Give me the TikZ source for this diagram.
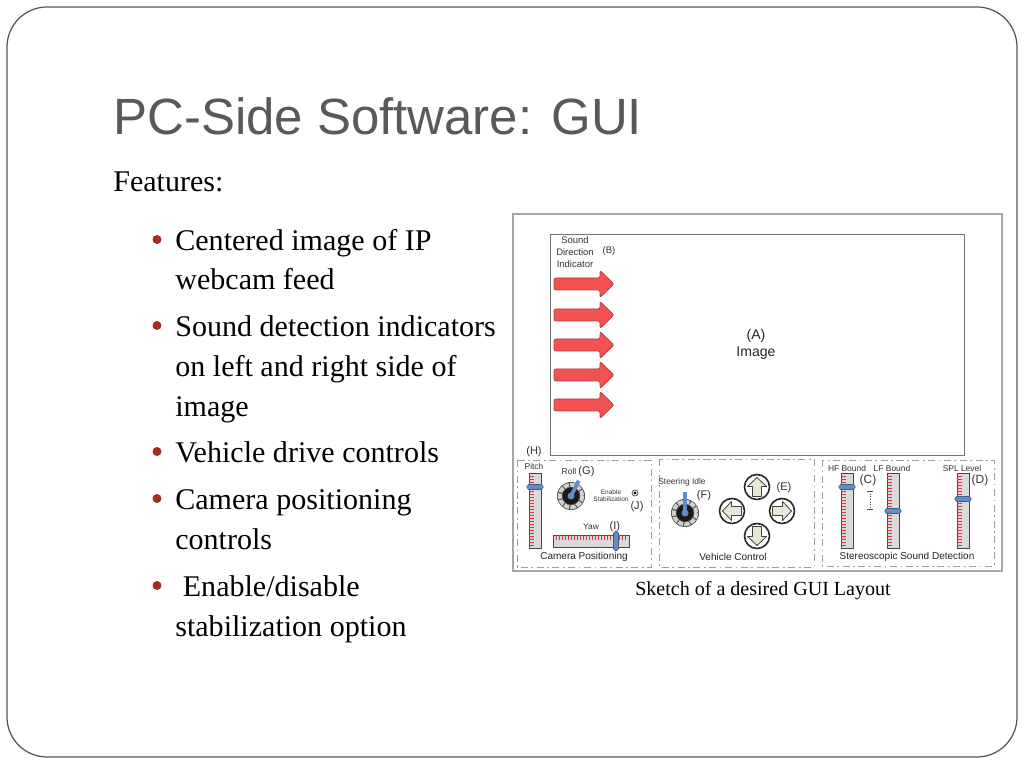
\documentclass[tikz,border=0pt]{standalone}
\usepackage{fontspec}
\setmainfont{Liberation Serif}
\setsansfont{Liberation Sans}
\usetikzlibrary{positioning}

\definecolor{titlegray}{RGB}{92,88,88}
\definecolor{framegray}{RGB}{85,85,85}
\definecolor{bulletred}{RGB}{165,45,35}
\definecolor{sndred}{RGB}{242,82,82}
\definecolor{tickred}{RGB}{225,50,65}
\definecolor{knobblue}{RGB}{96,140,200}
\definecolor{btngreen}{RGB}{228,232,212}

\newcommand{\vslider}[2]{%
	\draw[bar] (#1,473) rectangle ++(12,75);
	\foreach \t in {476,479,...,545} \draw[tickmark] (#1,\t) -- ++(5,0);
	\draw[knob] (#1-2,#2-2.5) rectangle ++(16,5);}

\newcommand{\dial}[4]{%
	\node[circle, fill=black!70, minimum size=5.6mm, inner sep=0pt] (#1) at (#2) {};
	\draw[gray!35, line width=2.2pt, dash pattern=on 3pt off 0.7pt] (#2) circle (11.3);
	\fill[black!90] (#2) circle (8.3);
	\draw[knobblue, line width=2.2pt] (#2) -- ++(#3:#4);
	\fill[knobblue] (#2) circle (3.5);}

\newcommand{\dirbutton}[3]{%
	\node[dirbtn] (#1) at (#2) {};
	\begin{scope}[shift={(#2)}, rotate=#3]
		\draw[btnarrow] (-9.5,-4.5) -- (0.5,-4.5) -- (0.5,-9.5) -- (9.5,0) -- (0.5,9.5) -- (0.5,4.5) -- (-9.5,4.5) -- cycle;
	\end{scope}}

\begin{document}
\begin{tikzpicture}[x=0.2mm,y=-0.2mm,
	slidetitle/.style={font=\sffamily\fontsize{29}{34}\selectfont, text=titlegray, inner sep=0pt, anchor=base west},
	bodytext/.style={font=\fontsize{17.1}{22.8}\selectfont, inner sep=0pt, anchor=base west},
	guismall/.style={font=\sffamily\fontsize{4.8}{5.8}\selectfont, text=black!80, inner sep=0pt},
	guilabel/.style={font=\sffamily\fontsize{6.3}{7}\selectfont, text=black!80, inner sep=0pt},
	guiname/.style={font=\sffamily\fontsize{5.7}{6.5}\selectfont, text=black!85, inner sep=0pt},
	panel/.style={draw=gray!75, line width=0.5pt, dash pattern=on 4pt off 2pt on 1pt off 2pt},
	sndarrow/.style={fill=sndred, draw=sndred!75!black, line width=0.4pt, rounded corners=0.4mm},
	bar/.style={fill=gray!30, draw=gray!55!black, line width=0.4pt},
	tickmark/.style={draw=tickred, line width=0.45pt},
	knob/.style={fill=knobblue, draw=knobblue!65!black, line width=0.35pt, rounded corners=1pt},
	dirbtn/.style={circle, draw=black!85, line width=0.9pt, fill=white, minimum size=5mm, inner sep=0pt},
	btnarrow/.style={fill=btngreen, draw=black!75, line width=0.45pt, line join=round}]

\useasboundingbox (0,0) rectangle (1024,768);
\fill[white] (0,0) rectangle (1024,768);
\draw[framegray, line width=0.7pt, rounded corners=8mm] (7,7) rectangle (1017,757);

\node[slidetitle] (title) at (113,135) {PC-Side Software: GUI};
\node[bodytext] (features) at (113,192) {Features:};
\foreach \y/\txt in {251/Centered image of IP, 290/webcam feed, 337/Sound detection indicators, 377/on left and right side of, 417/image, 463/Vehicle drive controls, 510/Camera positioning, 550/controls, 597/{\ Enable/disable}, 637/stabilization option}
	\node[bodytext] (line\y) at (175,\y) {\txt};
\foreach \y in {251,337,463,510,597}
	\fill[bulletred] (157,\y-11.5) circle (4.5);

\draw[gray!70, fill=white, line width=0.6pt] (513,214) rectangle (1002,571);
\draw[black!55, line width=0.5pt] (550,234) rectangle (964,455);
\node[font=\sffamily\fontsize{5.4}{6.8}\selectfont, text=black!80, align=center, inner sep=0pt] (sdi) at (575,252) {Sound\\Direction\\Indicator};
\node[font=\sffamily\fontsize{5.4}{6}\selectfont, text=black!80, inner sep=0pt] (sdiB) at (609,251) {(B)};
\foreach \y in {284,315,345,375,405}
	\draw[sndarrow] (554,\y-6) -- (600,\y-6) -- (600,\y-13.5) -- (614,\y) -- (600,\y+13.5) -- (600,\y+6) -- (554,\y+6) -- cycle;
\node[font=\sffamily\fontsize{8}{9}\selectfont, text=black!85, inner sep=0pt] (imgA) at (756,336) {(A)};
\node[font=\sffamily\fontsize{8}{9}\selectfont, text=black!85, inner sep=0pt] (img) at (756,353) {Image};

\draw[panel] (517,460) rectangle (651,567);
\draw[panel] (659,459) rectangle (814,567);
\draw[panel] (822,460) rectangle (994,566);

\node[guilabel] (pitchH) at (534,452) {(H)};
\node[guismall] (pitch) at (534,466) {Pitch};
\vslider{529}{487}
\node[guismall] (roll) at (569,471) {Roll};
\node[guilabel, base right=0.3mm of roll] (rollG) {(G)};
\dial{rolldial}{571,496}{-63}{17}
\node[font=\sffamily\fontsize{3.7}{4.1}\selectfont, text=black!80, align=center, inner sep=0pt] (stab) at (611,496) {Enable\\Stabilization};
\draw[black!70, line width=0.4pt] (635,493) circle (3);
\fill[black] (635,493) circle (1.6);
\node[guilabel] (stabJ) at (637,507) {(J)};
\node[guismall] (yaw) at (591,527) {Yaw};
\node[guilabel, base right=2mm of yaw] (yawI) {(I)};
\draw[bar] (553,535) rectangle (629,547);
\foreach \t in {556,559,...,626} \draw[tickmark] (\t,535) -- ++(0,5);
\draw[knob] (613.5,531.5) rectangle ++(5,19);
\node[guiname] (campos) at (584,557) {Camera Positioning};

\node[guismall] (steer) at (682,482) {Steering Idle};
\node[guilabel] (steerF) at (704,496) {(F)};
\dial{steerdial}{685,513}{-90}{21}
\dirbutton{up}{757,487}{90}
\dirbutton{left}{732,511}{180}
\dirbutton{right}{782,511}{0}
\dirbutton{down}{757,536}{270}
\node[guilabel] (btnE) at (784,488) {(E)};
\node[guiname] (vehctl) at (733,557) {Vehicle Control};

\node[guismall] (hf) at (847,468) {HF Bound};
\node[guismall] (lf) at (892,468) {LF Bound};
\node[guismall] (spl) at (962,468) {SPL Level};
\vslider{841}{487}
\vslider{887}{511}
\vslider{957}{499}
\node[font=\sffamily\fontsize{6.8}{7.5}\selectfont, text=black!80, inner sep=0pt] (boundC) at (868,480) {(C)};
\node[font=\sffamily\fontsize{6.8}{7.5}\selectfont, text=black!80, inner sep=0pt] (splD) at (980,480) {(D)};
\draw[gray!60!black, densely dotted, line width=0.5pt] (870,491) -- (870,509);
\draw[gray!60!black, line width=0.4pt] (867,491) -- (873,491) (867,509) -- (873,509);
\node[guiname] (stereo) at (907,557) {Stereoscopic Sound Detection};

\node[font=\fontsize{11.4}{13}\selectfont, anchor=base, inner sep=0pt] (caption) at (763,596) {Sketch of a desired GUI Layout};
\end{tikzpicture}
\end{document}
